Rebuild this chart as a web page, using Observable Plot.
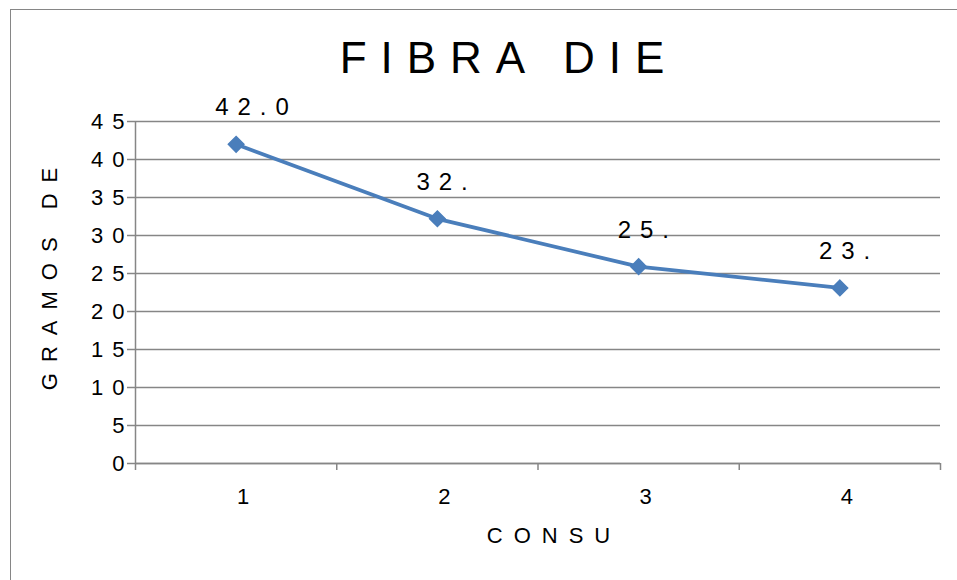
<!DOCTYPE html>
<html>
<head>
<meta charset="utf-8">
<script src="https://cdn.jsdelivr.net/npm/d3@7"></script>
<script src="https://cdn.jsdelivr.net/npm/@observablehq/plot@0.6"></script>
<style>
  html, body { margin: 0; padding: 0; background: #fff; overflow: hidden; }
  #wrap { position: relative; width: 957px; height: 580px; overflow: hidden; }
  #border { position: absolute; left: 10px; top: 9px; width: 2000px; height: 2000px;
            border: 1.5px solid #868686; box-sizing: border-box; }
  #chart svg { position: absolute; left: 0; top: 0; }
  #chart svg text { letter-spacing: 9px; }
</style>
</head>
<body>
<div id="wrap">
  <div id="border"></div>
  <div id="chart"></div>
</div>
<script>
// ---- data ----
const title = "FIBRA DIE";
const yTitle = "GRAMOS DE";
const xTitle = "CONSU";
const categories = [1, 2, 3, 4];
const values = [42.0, 32.2, 25.9, 23.1];
const pointLabels = ["42.0", "32.", "25.", "23."];
const yTicks = [0, 5, 10, 15, 20, 25, 30, 35, 40, 45];
const xBoundaries = [0.5, 1.5, 2.5, 3.5, 4.5];

const data = categories.map((c, i) => ({c, v: values[i], label: pointLabels[i]}));

const gray = "#868686";
const blue = "#4a7ebb";

const chart = Plot.plot({
  width: 957,
  height: 580,
  marginLeft: 135,
  marginRight: 17,
  marginTop: 121,
  marginBottom: 117,
  style: {
    fontFamily: "'Liberation Sans', Arial, sans-serif",
    fontSize: "22px",
    color: "#000",
    background: "transparent",
    overflow: "visible"
  },
  x: {domain: [0.5, 4.5]},
  y: {domain: [0, 45]},
  marks: [
    Plot.gridY(yTicks, {stroke: gray, strokeOpacity: 1, strokeWidth: 1.5}),
    Plot.ruleX([0.5], {stroke: gray, strokeWidth: 1.5}),
    Plot.ruleY([0], {stroke: gray, strokeWidth: 1.5}),
    Plot.axisY(yTicks, {tickSize: 8, tickFormat: () => "", stroke: gray, strokeWidth: 1.5, label: null}),
    Plot.axisY(yTicks, {tickSize: 0, tickPadding: 2, fill: "#000", label: null}),
    Plot.axisX(xBoundaries, {tickSize: 7, tickFormat: () => "", stroke: gray, strokeWidth: 1.5, label: null}),
    Plot.axisX(categories, {tickSize: 0, tickPadding: 25, dx: 7, fill: "#000", label: null, tickFormat: d => String(d)}),
    Plot.line(data, {x: "c", y: "v", stroke: blue, strokeWidth: 3.8}),
    Plot.dot(data, {x: "c", y: "v", symbol: "diamond2", r: 7, fill: blue, stroke: blue}),
    Plot.text(data, {x: "c", y: "v", text: "label", textAnchor: "start", lineAnchor: "bottom",
                     dx: -21, dy: -29, fontSize: 24, fill: "#000"}),
    Plot.text([title], {frameAnchor: "top", textAnchor: "middle", lineAnchor: "middle", dx: -29, dy: -62.5,
                        fontSize: 44, fill: "#000"}),
    Plot.text([yTitle], {frameAnchor: "left", textAnchor: "middle", lineAnchor: "middle", rotate: -90,
                         dx: -86, dy: -19, fontSize: 22, fill: "#000"}),
    Plot.text([xTitle], {frameAnchor: "bottom", textAnchor: "middle", lineAnchor: "middle", dx: 16, dy: 72,
                         fontSize: 22, fill: "#000"})
  ]
});

// per-text letter spacing (styling only)
d3.select(chart).selectAll("text").each(function() {
  const t = this.textContent;
  let ls = null;
  if (t === title) ls = "14px";
  else if (t === yTitle || t === xTitle) ls = "11px";
  else if (pointLabels.includes(t)) ls = "9px";
  else if (categories.map(String).includes(t) && this.closest('[aria-label="x-axis tick label"]')) ls = "0px";
  if (ls !== null) this.style.letterSpacing = ls;
});

document.getElementById("chart").appendChild(chart);
</script>
</body>
</html>
